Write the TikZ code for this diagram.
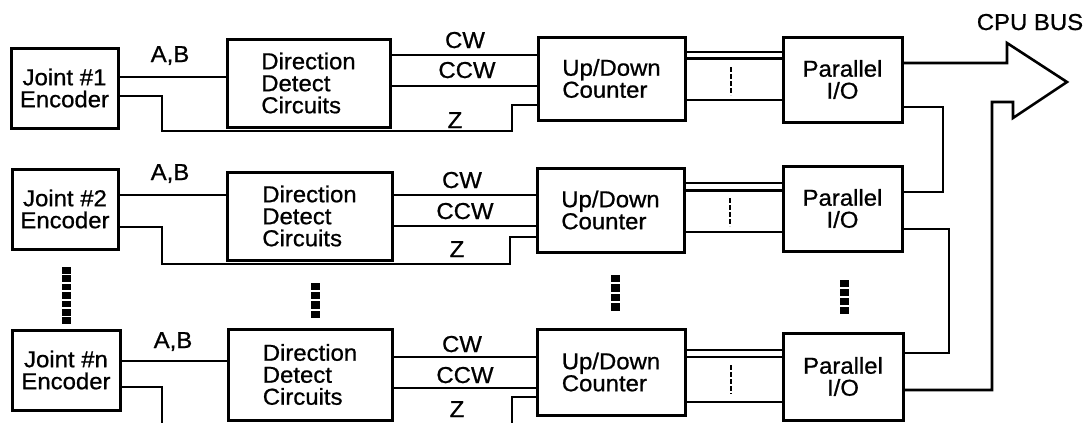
\documentclass[tikz,border=0pt]{standalone}
\usepackage{fontspec}
\setmainfont{Liberation Sans}[FakeStretch=1.04,FakeBold=0.8]
\begin{document}
\begin{tikzpicture}[x=1pt,y=-1pt,
  box/.style={draw, line width=3pt, inner sep=0pt, font=\fontsize{23}{22}\selectfont},
  wire/.style={line width=2.6pt, line join=miter},
  bus/.style={line width=2.2pt},
  tick/.style={line width=2.6pt, dash pattern=on 5pt off 2pt},
  lab/.style={anchor=base, inner sep=0pt, font=\fontsize{23}{22}\selectfont}]
\useasboundingbox (0,0) rectangle (1090,423);

% ---------- boxes ----------
\node[box, minimum width=107, minimum height=80, align=center] (enc1) at (64.5,88) {Joint \#1\\Encoder};
\node[box, minimum width=106, minimum height=80, align=center] (enc2) at (65,209) {Joint \#2\\Encoder};
\node[box, minimum width=108, minimum height=80, align=center] (enc3) at (66,370) {Joint \#n\\Encoder};

\node[box, minimum width=163, minimum height=88, align=left] (ddc1) at (308.5,83) {Direction\\Detect\\Circuits};
\node[box, minimum width=165, minimum height=88, align=left] (ddc2) at (309.5,216) {Direction\\Detect\\Circuits};
\node[box, minimum width=164, minimum height=91, align=left] (ddc3) at (310,374.5) {Direction\\Detect\\Circuits};

\node[box, minimum width=147, minimum height=83, align=left] (cnt1) at (611.5,78.5) {Up/Down\\Counter};
\node[box, minimum width=147, minimum height=84, align=left] (cnt2) at (610.5,210) {Up/Down\\Counter};
\node[box, minimum width=148, minimum height=86, align=left] (cnt3) at (611,372) {Up/Down\\Counter};

\node[box, minimum width=119, minimum height=85, align=center] (io1) at (842.5,79.5) {Parallel\\I/O};
\node[box, minimum width=119, minimum height=85, align=center] (io2) at (842.5,208.5) {Parallel\\I/O};
\node[box, minimum width=120, minimum height=87, align=center] (io3) at (843,376.5) {Parallel\\I/O};

% ---------- row 1 ----------
\draw[wire] (enc1.east |- 0,77) -- (ddc1.west |- 0,77);
\draw[wire] (enc1.east |- 0,96) -- (162,96) -- (162,131) -- (512,131) -- (512,105) -- (cnt1.west |- 0,105);
\draw[wire] (ddc1.east |- 0,55) -- (cnt1.west |- 0,55);
\draw[wire] (ddc1.east |- 0,86) -- (cnt1.west |- 0,86);
\draw[bus] (cnt1.east |- 0,52) -- (io1.west |- 0,52);
\draw[bus] (cnt1.east |- 0,58.5) -- (io1.west |- 0,58.5);
\draw[bus] (cnt1.east |- 0,100) -- (io1.west |- 0,100);
\draw[tick] (731,67) -- (731,95);
\draw[wire] (io1.east |- 0,107) -- (943,107) -- (943,192) -- (io2.east |- 0,192);

\node[lab] (ab1) at (170,62) {A,B};
\node[lab] (cw1) at (465,48) {CW};
\node[lab] (ccw1) at (467,78) {CCW};
\node[lab] (z1) at (455,128) {Z};

% ---------- row 2 ----------
\draw[wire] (enc2.east |- 0,195) -- (ddc2.west |- 0,195);
\draw[wire] (enc2.east |- 0,227) -- (162,227) -- (162,264) -- (510,264) -- (510,237) -- (cnt2.west |- 0,237);
\draw[wire] (ddc2.east |- 0,195) -- (cnt2.west |- 0,195);
\draw[wire] (ddc2.east |- 0,226) -- (cnt2.west |- 0,226);
\draw[bus] (cnt2.east |- 0,183) -- (io2.west |- 0,183);
\draw[bus] (cnt2.east |- 0,190.5) -- (io2.west |- 0,190.5);
\draw[bus] (cnt2.east |- 0,232) -- (io2.west |- 0,232);
\draw[tick] (730,198) -- (730,226);
\draw[wire] (io2.east |- 0,229) -- (949,229) -- (949,353) -- (io3.east |- 0,353);

\node[lab] (ab2) at (170,180) {A,B};
\node[lab] (cw2) at (462,188) {CW};
\node[lab] (ccw2) at (465,219) {CCW};
\node[lab] (z2) at (457,257) {Z};

% ---------- row n ----------
\coordinate (encend) at (162,424);
\coordinate (zend) at (512,424);
\draw[wire] (enc3.east |- 0,361) -- (ddc3.west |- 0,361);
\draw[wire] (enc3.east |- 0,387) -- (162,387) -- (encend);
\draw[wire] (cnt3.west |- 0,397) -- (512,397) -- (zend);
\draw[wire] (ddc3.east |- 0,357) -- (cnt3.west |- 0,357);
\draw[wire] (ddc3.east |- 0,388) -- (cnt3.west |- 0,388);
\draw[bus] (cnt3.east |- 0,350) -- (io3.west |- 0,350);
\draw[bus] (cnt3.east |- 0,357) -- (io3.west |- 0,357);
\draw[bus] (cnt3.east |- 0,402) -- (io3.west |- 0,402);
\draw[tick] (731,365) -- (731,394);

\node[lab] (ab3) at (173,348) {A,B};
\node[lab] (cw3) at (462,352) {CW};
\node[lab] (ccw3) at (465,383) {CCW};
\node[lab] (z3) at (457,417) {Z};

% ---------- CPU bus arrow ----------
\draw[wire] (io1.east |- 0,63) -- (1007,63) -- (1007,43) -- (1067,82) -- (1013,118) -- (1013,102) -- (992,102) -- (992,390) -- (io3.east |- 0,390);
\node[lab] (cpubus) at (1030,30) {CPU BUS};

% ---------- ellipsis dots ----------
\foreach \i in {0,...,6} \fill (61.5,{267+\i*8.4}) rectangle ++(9,6.6);
\foreach \i in {0,...,3} \fill (310.5,{283+\i*9.2}) rectangle ++(9,7.2);
\foreach \i in {0,...,3} \fill (610.5,{275+\i*9.4}) rectangle ++(9,7.4);
\foreach \i in {0,...,3} \fill (839.5,{280+\i*9}) rectangle ++(9,7);
\end{tikzpicture}
\end{document}
